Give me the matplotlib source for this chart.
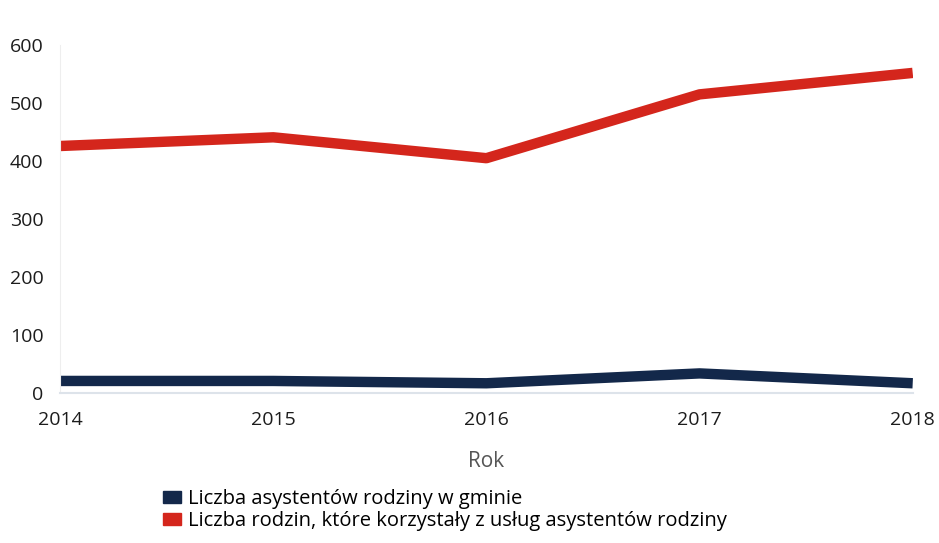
import matplotlib.pyplot as plt
from matplotlib.patches import Patch

plt.rcParams['font.family'] = ['Open Sans', 'DejaVu Sans']

years = [2014, 2015, 2016, 2017, 2018]
asystenci = [21, 21, 17, 34, 17]
rodziny = [426, 441, 405, 515, 552]

navy = '#13284a'
red = '#d4261c'

fig = plt.figure(figsize=(9.39, 5.43), dpi=100)
ax = fig.add_axes([0.064, 0.276, 0.908, 0.641])

ax.plot(years, asystenci, color=navy, lw=7.5, solid_capstyle='butt', solid_joinstyle='round')
ax.plot(years, rodziny, color=red, lw=7.5, solid_capstyle='butt', solid_joinstyle='round')

ax.set_xlim(2014, 2018)
ax.set_ylim(0, 600)
ax.set_xticks(years)
ax.set_yticks(range(0, 601, 100))

for s in ['top', 'right']:
    ax.spines[s].set_visible(False)
ax.spines['left'].set_color('#eeeeee')
ax.spines['bottom'].set_color('#dde3ea')
ax.spines['bottom'].set_linewidth(1.5)
ax.tick_params(length=0, labelsize=14, colors='#1c1c1c')
ax.tick_params(axis='y', pad=12)
ax.tick_params(axis='x', pad=13)
ax.set_xlabel('Rok', fontsize=15, color='#555555', labelpad=16)

handles = [Patch(color=navy, label='Liczba asystentów rodziny w gminie'),
           Patch(color=red, label='Liczba rodzin, które korzystały z usług asystentów rodziny')]
fig.legend(handles=handles, loc='center left', bbox_to_anchor=(0.165, 0.06),
           frameon=False, fontsize=14.5, handlelength=0.9, handleheight=0.55,
           handletextpad=0.35, labelspacing=0.1, borderaxespad=0)

fig.savefig('out.png', dpi=100)
